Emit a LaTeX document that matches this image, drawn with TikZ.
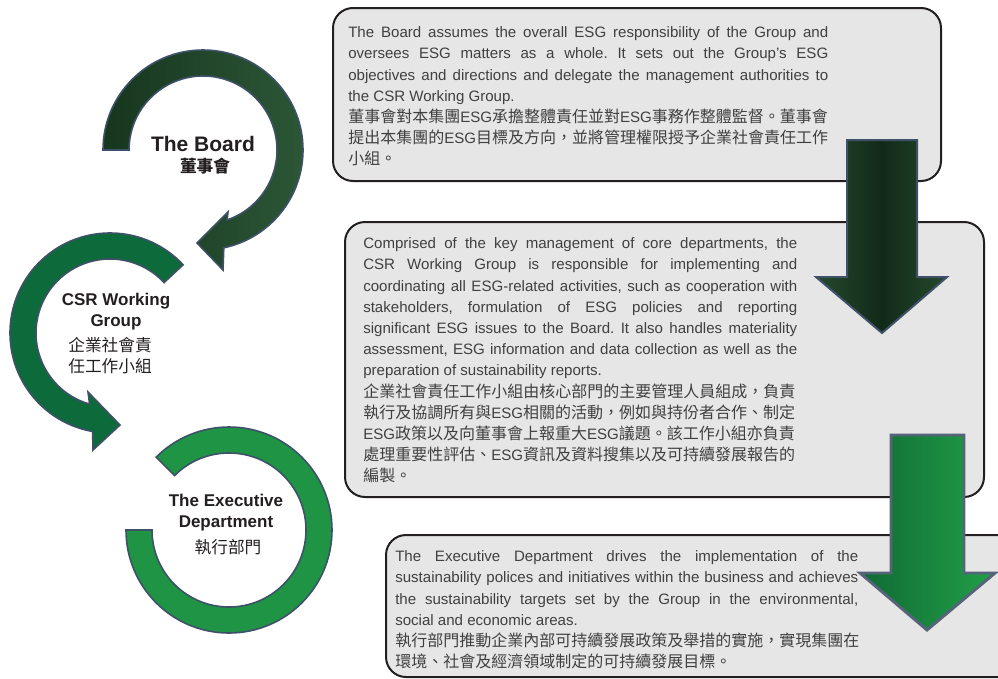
\documentclass[tikz,border=0pt]{standalone}
\usepackage{fontspec}
\setmainfont{Liberation Sans}
\newfontfamily\zhfont{Noto Sans CJK TC}
\newfontfamily\enfont{Liberation Sans}
\usetikzlibrary{calc}

\definecolor{ringedge}{HTML}{3F5169}
\definecolor{boardleft}{HTML}{16361E}
\definecolor{boardright}{HTML}{2C5636}
\definecolor{csrgreen}{HTML}{0D6A3A}
\definecolor{execgreen}{HTML}{1E9444}
\definecolor{darkside}{HTML}{25492D}
\definecolor{darkmid}{HTML}{112A18}
\definecolor{greenleft}{HTML}{0F6A34}
\definecolor{greenright}{HTML}{22A048}
\definecolor{greenedge}{HTML}{56647A}
\definecolor{boxfill}{HTML}{E6E6E6}
\definecolor{boxedge}{HTML}{231F20}
\definecolor{bodytext}{HTML}{404040}
\definecolor{labeltext}{HTML}{231F20}

\newcommand\zh{\zhfont\fontsize{12}{15.9}\selectfont}
\newcommand\esg{{\enfont\fontsize{11.3}{15.9}\selectfont ESG}}
\tolerance=9999
\hbadness=10000
\frenchspacing

\begin{document}
\begin{tikzpicture}[x=0.75pt,y=-0.75pt,
    ring/.style={draw=ringedge,line width=1.2pt,line join=miter},
    infobox/.style={draw=boxedge,fill=boxfill,line width=1.5pt,rounded corners=15pt},
    infotext/.style={anchor=north west,inner sep=0pt,align=justify,text=bodytext,
        font=\frenchspacing\fontsize{11.3}{15.9}\selectfont},
    title/.style={align=center,inner sep=0pt,text=labeltext,
        font=\bfseries\fontsize{12.75}{15.75}\selectfont},
    titlezh/.style={align=center,inner sep=0pt,text=labeltext,
        font=\zhfont\fontsize{12.5}{15.75}\selectfont}]

    \useasboundingbox (0,0) rectangle (998,678);
    \clip (0,0) rectangle (998,678);

    % the three rings
    \coordinate (c1) at (203,150);
    \coordinate (c2) at (110,333);
    \coordinate (c3) at (229,530);

    \path[ring, left color=boardleft, right color=boardright]
        ([shift={(180:100)}]c1) arc[start angle=180, end angle=438, radius=100]
        -- (223,270) -- (197,243) -- (228,212)
        -- ([shift={(431:74)}]c1) arc[start angle=431, end angle=180, radius=74] -- cycle;

    \path[ring, fill=csrgreen]
        ([shift={(-43:100)}]c2) arc[start angle=-43, end angle=-260, radius=100]
        -- (93,450) -- (120,425) -- (88,392)
        -- ([shift={(-254:74)}]c2) arc[start angle=-254, end angle=-43, radius=74] -- cycle;

    \path[ring, fill=execgreen]
        ([shift={(180:103)}]c3) arc[start angle=180, end angle=-135, radius=103]
        -- ([shift={(-135:77)}]c3) arc[start angle=-135, end angle=180, radius=77] -- cycle;

    \node[title, font=\bfseries\fontsize{15.75}{18}\selectfont] (board) at (203,144) {The Board};
    \node[titlezh, font=\zhfont\bfseries\fontsize{12.5}{15.75}\selectfont] (boardzh) at (205,166) {董事會};
    \node[title] (csr) at (116,311.5) {CSR Working\\Group};
    \node[titlezh] (csrzh) at (110,355.5) {企業社會責\\任工作小組};
    \node[title] (exec) at (226,512.5) {The Executive\\Department};
    \node[titlezh] (execzh) at (228,547) {執行部門};

    % the three boxes
    \draw[infobox] (333,8) rectangle (941,181);
    \draw[infobox] (345,222) rectangle (984,497);
    \draw[infobox] (386,535) rectangle (1030,677);

    \node[infotext, text width=360pt] (boardtext) at (348,26.5)
        {The Board assumes the overall ESG responsibility of the Group and\linebreak
        oversees ESG matters as a whole. It sets out the Group’s ESG\linebreak
        objectives and directions and delegate the management authorities to\linebreak
        the CSR Working Group.\\
        {\zh 董事會對本集團\esg{}承擔整體責任並對\esg{}事務作整體監督。董事會\\提出本集團的\esg{}目標及方向，並將管理權限授予企業社會責任工作\\小組。}};

    \node[infotext, text width=325.5pt] (csrtext) at (363,237.5)
        {Comprised of the key management of core departments, the\linebreak
        CSR Working Group is responsible for implementing and\linebreak
        coordinating all ESG-related activities, such as cooperation with\linebreak
        stakeholders, formulation of ESG policies and reporting\linebreak
        significant ESG issues to the Board. It also handles materiality\linebreak
        assessment, ESG information and data collection as well as the\linebreak
        preparation of sustainability reports.\\
        {\zh 企業社會責任工作小組由核心部門的主要管理人員組成，負責\\執行及協調所有與\esg{}相關的活動，例如與持份者合作、制定\\\esg{}政策以及向董事會上報重大\esg{}議題。該工作小組亦負責\\處理重要性評估、\esg{}資訊及資料搜集以及可持續發展報告的\\編製。}};

    \node[infotext, text width=347.25pt] (exectext) at (395,550.5)
        {The Executive Department drives the implementation of the\linebreak
        sustainability polices and initiatives within the business and achieves\linebreak
        the sustainability targets set by the Group in the environmental,\linebreak
        social and economic areas.\\
        {\zh 執行部門推動企業內部可持續發展政策及舉措的實施，實現集團在\\環境、社會及經濟領域制定的可持續發展目標。}};

    % the two down arrows
    \path[draw=ringedge, line width=1.5pt, left color=darkside, right color=darkside, middle color=darkmid]
        (847,140) -- (917,140) -- (917,277) -- (947,277) -- (882,333) -- (816,277) -- (847,277) -- cycle;
    \path[draw=greenedge, line width=2.2pt, left color=greenleft, right color=greenright]
        (891,435) -- (964,435) -- (964,573) -- (995,573) -- (927,630) -- (860,573) -- (891,573) -- cycle;
\end{tikzpicture}
\end{document}
